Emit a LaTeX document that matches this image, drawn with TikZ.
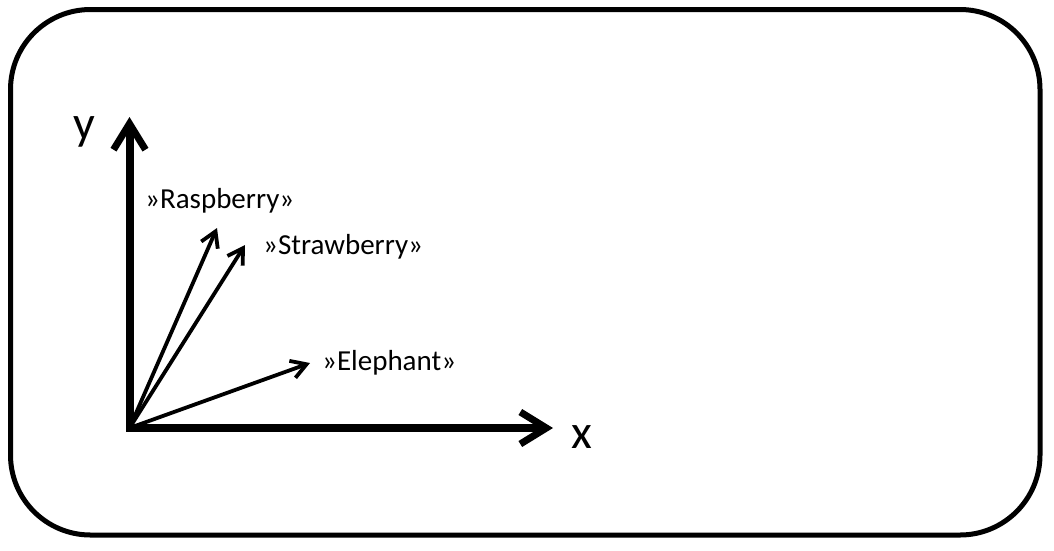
\documentclass[tikz,border=0pt]{standalone}
\usepackage{fontspec}
\setmainfont{Carlito}
\usetikzlibrary{arrows.meta}
\begin{document}
\begin{tikzpicture}[x=1pt,y=-1pt,
  axis/.style={draw,line width=8pt,line join=miter,{Straight Barb[length=26pt,width=32pt,line width=7pt]}-{Straight Barb[length=26pt,width=32pt,line width=7pt]}},
  vec/.style={draw,line width=3.8pt,-{Straight Barb[length=15pt,width=18pt,line width=3.8pt]}},
  word/.style={anchor=west,inner sep=0pt,font=\fontsize{29}{32}\selectfont}]
\useasboundingbox (0,0) rectangle (1054,550);
\path[draw,line width=5pt,rounded corners=80pt] (10.5,9.5) rectangle (1040,535);
\coordinate (o) at (129.5,428);
\coordinate (ytip) at (129.5,117);
\coordinate (xtip) at (553,428);
\coordinate (r) at (217,228);
\coordinate (s) at (245,245);
\coordinate (e) at (310,363);
\node[font=\fontsize{48}{52}\selectfont,inner sep=0pt] (ylab) at (84,132) {y};
\node[font=\fontsize{48}{52}\selectfont,inner sep=0pt] (xlab) at (582,437) {x};
\node[word] (rasp) at (145,201) {»Raspberry»};
\node[word] (straw) at (263,247) {»Strawberry»};
\node[word] (eleph) at (322,363) {»Elephant»};
\path[vec] (o) -- (r);
\path[vec] (o) -- (s);
\path[vec] (o) -- (e);
\path[axis] (ytip) -- (o) -- (xtip);
\end{tikzpicture}
\end{document}
